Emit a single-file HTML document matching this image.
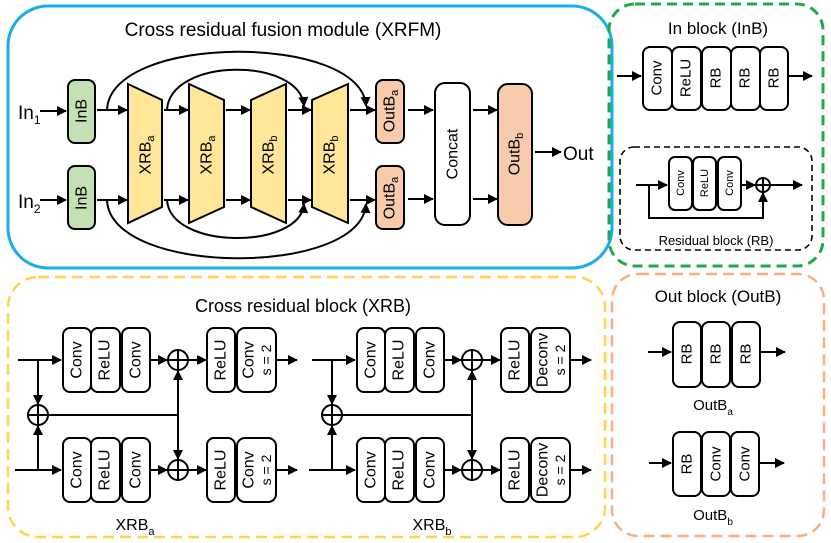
<!DOCTYPE html>
<html><head><meta charset="utf-8"><style>
html,body{margin:0;padding:0;background:#fff}
svg{display:block}
text{font-family:"Liberation Sans",Arial,sans-serif;fill:#000}
</style></head><body>
<svg width="831" height="543" viewBox="0 0 831 543" xmlns="http://www.w3.org/2000/svg">
<defs>
<marker id="a" markerWidth="10" markerHeight="10" refX="9" refY="5" orient="auto" markerUnits="userSpaceOnUse">
<path d="M0,0 L10,5 L0,10 z" fill="#000"/></marker>
</defs>
<!-- containers -->
<rect x="8" y="6" width="604" height="262" rx="40" fill="none" stroke="#1aade6" stroke-width="3"/>
<rect x="609" y="4" width="214" height="262" rx="26" fill="none" stroke="#21a84a" stroke-width="3" stroke-dasharray="10,6"/>
<rect x="8" y="277" width="597" height="260" rx="30" fill="none" stroke="#ffd54f" stroke-width="2.5" stroke-dasharray="11,6"/>
<rect x="612" y="274" width="212" height="262" rx="26" fill="none" stroke="#f4b183" stroke-width="2.5" stroke-dasharray="11,6"/>

<text x="283" y="36" font-size="19" text-anchor="middle">Cross residual fusion module (XRFM)</text>
<text x="718" y="34" font-size="17" text-anchor="middle">In block (InB)</text>
<text x="303" y="312" font-size="18" text-anchor="middle">Cross residual block (XRB)</text>
<text x="718" y="302" font-size="17" text-anchor="middle">Out block (OutB)</text>

<g stroke="#000" stroke-width="2" fill="none">
<!-- XRFM arrows -->
<line x1="40" y1="111" x2="66" y2="111" marker-end="url(#a)"/>
<line x1="40" y1="200" x2="66" y2="200" marker-end="url(#a)"/>
<line x1="97" y1="110" x2="127" y2="110" marker-end="url(#a)"/>
<line x1="97" y1="200" x2="127" y2="200" marker-end="url(#a)"/>
<line x1="164" y1="110" x2="188" y2="110" marker-end="url(#a)"/>
<line x1="164" y1="200" x2="188" y2="200" marker-end="url(#a)"/>
<line x1="226" y1="110" x2="250" y2="110" marker-end="url(#a)"/>
<line x1="226" y1="200" x2="250" y2="200" marker-end="url(#a)"/>
<line x1="288" y1="110" x2="311" y2="110" marker-end="url(#a)"/>
<line x1="288" y1="200" x2="311" y2="200" marker-end="url(#a)"/>
<line x1="350" y1="110" x2="375" y2="110" marker-end="url(#a)"/>
<line x1="350" y1="200" x2="375" y2="200" marker-end="url(#a)"/>
<line x1="408" y1="110" x2="433" y2="110" marker-end="url(#a)"/>
<line x1="408" y1="199" x2="433" y2="199" marker-end="url(#a)"/>
<line x1="473" y1="110" x2="497" y2="110" marker-end="url(#a)"/>
<line x1="473" y1="199" x2="497" y2="199" marker-end="url(#a)"/>
<line x1="535" y1="152" x2="561" y2="152" marker-end="url(#a)"/>
<!-- arcs -->
<path d="M107,110 C110,33 362,33 366,106" marker-end="url(#a)"/>
<path d="M167,110 C170,57 300,57 304,106" marker-end="url(#a)"/>
<path d="M107,200 C110,277 362,277 366,204" marker-end="url(#a)"/>
<path d="M167,200 C170,250 300,250 304,204" marker-end="url(#a)"/>
</g>
<text x="18" y="119" font-size="19">In<tspan font-size="12" dy="5">1</tspan></text>
<text x="18" y="208" font-size="19">In<tspan font-size="12" dy="5">2</tspan></text>
<text x="563" y="160" font-size="19">Out</text>

<g stroke="#000" stroke-width="2">
<rect x="68" y="80" width="27" height="63" rx="7" fill="#c5e0b4"/>
<rect x="68" y="166" width="27" height="63" rx="7" fill="#c5e0b4"/>
<polygon points="128,84 162,100 162,207 128,223" fill="#ffe699"/>
<polygon points="189,84 224,100 224,207 189,223" fill="#ffe699"/>
<polygon points="251,100 286,84 286,223 251,207" fill="#ffe699"/>
<polygon points="312,100 348,84 348,223 312,207" fill="#ffe699"/>
<rect x="376" y="80" width="28" height="63" rx="7" fill="#f8cbad"/>
<rect x="376" y="166" width="28" height="63" rx="7" fill="#f8cbad"/>
<rect x="435" y="83" width="35" height="142" rx="10" fill="#fff"/>
<rect x="498" y="84" width="34" height="141" rx="10" fill="#f8cbad"/>
</g>
<g font-size="16" text-anchor="middle" dominant-baseline="central">
<text transform="translate(82,111) rotate(-90)">InB</text>
<text transform="translate(82,198) rotate(-90)">InB</text>
<text transform="translate(146,155) rotate(-90)">XRB<tspan font-size="11" dy="5">a</tspan></text>
<text transform="translate(207,155) rotate(-90)">XRB<tspan font-size="11" dy="5">a</tspan></text>
<text transform="translate(269,155) rotate(-90)">XRB<tspan font-size="11" dy="5">b</tspan></text>
<text transform="translate(330,155) rotate(-90)">XRB<tspan font-size="11" dy="5">b</tspan></text>
<text transform="translate(390,111) rotate(-90)">OutB<tspan font-size="11" dy="5">a</tspan></text>
<text transform="translate(390,198) rotate(-90)">OutB<tspan font-size="11" dy="5">a</tspan></text>
<text transform="translate(453,154) rotate(-90)">Concat</text>
<text transform="translate(515,154) rotate(-90)">OutB<tspan font-size="11" dy="5">b</tspan></text>
</g>

<!-- In block -->
<g stroke="#000" stroke-width="2" fill="#fff">
<rect x="643" y="47" width="29" height="63" rx="7"/>
<rect x="672" y="47" width="29" height="63" rx="7"/>
<rect x="702" y="47" width="29" height="63" rx="7"/>
<rect x="731" y="47" width="29" height="63" rx="7"/>
<rect x="760" y="47" width="28" height="63" rx="7"/>
<line x1="617" y1="76" x2="641" y2="76" marker-end="url(#a)"/>
<line x1="789" y1="76" x2="812" y2="76" marker-end="url(#a)"/>
<rect x="620" y="147" width="192" height="103" rx="14" fill="none" stroke-width="1.6" stroke-dasharray="6,4"/>
<rect x="669" y="157" width="23" height="53" rx="6"/>
<rect x="693" y="157" width="23" height="53" rx="6"/>
<rect x="718" y="157" width="23" height="53" rx="6"/>
<circle cx="763" cy="185" r="7"/>
<line x1="756" y1="185" x2="770" y2="185"/><line x1="763" y1="178" x2="763" y2="192"/>
<polyline points="636,185 667,185" fill="none" marker-end="url(#a)"/>
<polyline points="742,185 755,185" fill="none" marker-end="url(#a)"/>
<polyline points="770,185 802,185" fill="none" marker-end="url(#a)"/>
<polyline points="649,185 649,218 763,218 763,193" fill="none" marker-end="url(#a)"/>
</g>
<g font-size="15" text-anchor="middle" dominant-baseline="central">
<text transform="translate(657,78) rotate(-90)">Conv</text>
<text transform="translate(686,78) rotate(-90)">ReLU</text>
<text transform="translate(716,78) rotate(-90)">RB</text>
<text transform="translate(745,78) rotate(-90)">RB</text>
<text transform="translate(774,78) rotate(-90)">RB</text>
</g>
<g font-size="11" text-anchor="middle" dominant-baseline="central">
<text transform="translate(681,183) rotate(-90)">Conv</text>
<text transform="translate(705,183) rotate(-90)">ReLU</text>
<text transform="translate(730,183) rotate(-90)">Conv</text>
</g>
<text x="716" y="245" font-size="13" text-anchor="middle">Residual block (RB)</text>

<!-- XRB a -->
<g id="xrb" stroke="#000" stroke-width="2" fill="#fff">
<rect x="63" y="328" width="28" height="64" rx="7"/>
<rect x="91" y="328" width="29" height="64" rx="7"/>
<rect x="122" y="328" width="28" height="64" rx="7"/>
<rect x="63" y="438" width="28" height="64" rx="7"/>
<rect x="91" y="438" width="29" height="64" rx="7"/>
<rect x="122" y="438" width="28" height="64" rx="7"/>
<rect x="207" y="328" width="28" height="64" rx="7"/>
<rect x="207" y="438" width="28" height="64" rx="7"/>
<line x1="18" y1="360" x2="61" y2="360" marker-end="url(#a)"/>
<line x1="15" y1="470" x2="61" y2="470" marker-end="url(#a)"/>
<line x1="38" y1="360" x2="38" y2="404" marker-end="url(#a)"/>
<line x1="38" y1="470" x2="38" y2="426" marker-end="url(#a)"/>
<circle cx="38" cy="415" r="10"/>
<line x1="28" y1="415" x2="48" y2="415"/><line x1="38" y1="405" x2="38" y2="425"/>
<line x1="48" y1="415" x2="178" y2="415"/>
<line x1="178" y1="415" x2="178" y2="371" marker-end="url(#a)"/>
<line x1="178" y1="415" x2="178" y2="459" marker-end="url(#a)"/>
<circle cx="178" cy="360" r="10"/>
<line x1="168" y1="360" x2="188" y2="360"/><line x1="178" y1="350" x2="178" y2="370"/>
<circle cx="178" cy="470" r="10"/>
<line x1="168" y1="470" x2="188" y2="470"/><line x1="178" y1="460" x2="178" y2="480"/>
<line x1="150" y1="360" x2="167" y2="360" marker-end="url(#a)"/>
<line x1="150" y1="470" x2="167" y2="470" marker-end="url(#a)"/>
<line x1="188" y1="360" x2="206" y2="360" marker-end="url(#a)"/>
<line x1="188" y1="470" x2="206" y2="470" marker-end="url(#a)"/>
<line x1="277" y1="360" x2="297" y2="360" marker-end="url(#a)"/>
<line x1="277" y1="470" x2="297" y2="470" marker-end="url(#a)"/>
</g>
<g stroke="#000" stroke-width="2" fill="#fff">
<rect x="237" y="328" width="39" height="64" rx="8"/>
<rect x="237" y="438" width="39" height="64" rx="8"/>
</g>
<g font-size="16" text-anchor="middle" dominant-baseline="central">
<text transform="translate(77,360) rotate(-90)">Conv</text>
<text transform="translate(105,360) rotate(-90)">ReLU</text>
<text transform="translate(136,360) rotate(-90)">Conv</text>
<text transform="translate(77,470) rotate(-90)">Conv</text>
<text transform="translate(105,470) rotate(-90)">ReLU</text>
<text transform="translate(136,470) rotate(-90)">Conv</text>
<text transform="translate(221,360) rotate(-90)">ReLU</text>
<text transform="translate(221,470) rotate(-90)">ReLU</text>
<text transform="translate(249,360) rotate(-90)">Conv</text>
<text transform="translate(249,470) rotate(-90)">Conv</text>
<text transform="translate(266,360) rotate(-90)" font-size="14">s = 2</text>
<text transform="translate(266,470) rotate(-90)" font-size="14">s = 2</text>
</g>
<text x="135" y="530" font-size="16" text-anchor="middle">XRB<tspan font-size="11" dy="5">a</tspan></text>

<!-- XRB b -->
<use href="#xrb" transform="translate(294,0)"/>
<g stroke="#000" stroke-width="2" fill="#fff">
<rect x="531" y="328" width="39" height="64" rx="8"/>
<rect x="531" y="438" width="39" height="64" rx="8"/>
</g>
<g font-size="16" text-anchor="middle" dominant-baseline="central">
<text transform="translate(371,360) rotate(-90)">Conv</text>
<text transform="translate(399,360) rotate(-90)">ReLU</text>
<text transform="translate(430,360) rotate(-90)">Conv</text>
<text transform="translate(371,470) rotate(-90)">Conv</text>
<text transform="translate(399,470) rotate(-90)">ReLU</text>
<text transform="translate(430,470) rotate(-90)">Conv</text>
<text transform="translate(515,360) rotate(-90)">ReLU</text>
<text transform="translate(515,470) rotate(-90)">ReLU</text>
<text transform="translate(543,360) rotate(-90)">Deconv</text>
<text transform="translate(543,470) rotate(-90)">Deconv</text>
<text transform="translate(560,360) rotate(-90)" font-size="14">s = 2</text>
<text transform="translate(560,470) rotate(-90)" font-size="14">s = 2</text>
</g>
<text x="432" y="530" font-size="16" text-anchor="middle">XRB<tspan font-size="11" dy="5">b</tspan></text>

<!-- Out block -->
<g stroke="#000" stroke-width="2" fill="#fff">
<rect x="673" y="322" width="28" height="65" rx="7"/>
<rect x="702" y="322" width="28" height="65" rx="7"/>
<rect x="732" y="322" width="28" height="65" rx="7"/>
<rect x="673" y="432" width="28" height="64" rx="7"/>
<rect x="702" y="432" width="28" height="64" rx="7"/>
<rect x="731" y="432" width="28" height="64" rx="7"/>
<line x1="648" y1="352" x2="671" y2="352" marker-end="url(#a)"/>
<line x1="761" y1="352" x2="785" y2="352" marker-end="url(#a)"/>
<line x1="649" y1="463" x2="671" y2="463" marker-end="url(#a)"/>
<line x1="760" y1="463" x2="784" y2="463" marker-end="url(#a)"/>
</g>
<g font-size="15" text-anchor="middle" dominant-baseline="central">
<text transform="translate(687,354) rotate(-90)">RB</text>
<text transform="translate(716,354) rotate(-90)">RB</text>
<text transform="translate(746,354) rotate(-90)">RB</text>
<text transform="translate(687,464) rotate(-90)">RB</text>
<text transform="translate(716,464) rotate(-90)">Conv</text>
<text transform="translate(745,464) rotate(-90)">Conv</text>
</g>
<text x="713" y="410" font-size="15" text-anchor="middle">OutB<tspan font-size="10" dy="5">a</tspan></text>
<text x="713" y="520" font-size="15" text-anchor="middle">OutB<tspan font-size="10" dy="5">b</tspan></text>
</svg>
</body></html>
